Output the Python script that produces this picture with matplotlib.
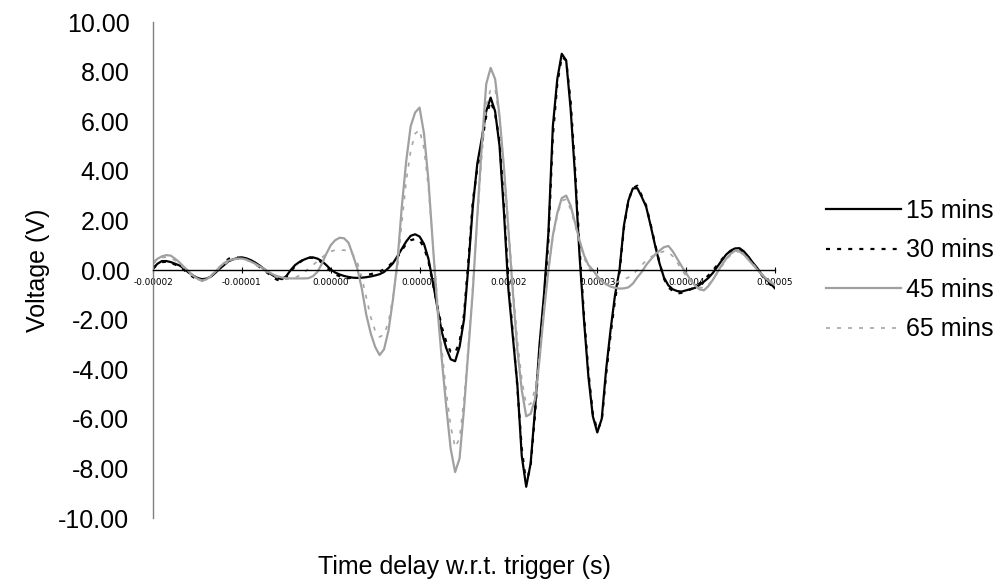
import numpy as np
import matplotlib
matplotlib.use("Agg")
import matplotlib.pyplot as plt
from matplotlib.ticker import FixedLocator, FuncFormatter

# Sample times (microseconds, 0.5 us step from -20 to 50)
t_us = np.arange(-20.0, 50.0 + 0.25, 0.5)

v_15min = [
    0.07, 0.25, 0.36, 0.36, 0.32, 0.25, 0.18, 0.05, -0.10, -0.22,
    -0.32, -0.37, -0.35, -0.27, -0.12, 0.05, 0.20, 0.35, 0.43, 0.48,
    0.51, 0.47, 0.40, 0.30, 0.18, 0.04, -0.10, -0.22, -0.32, -0.37,
    -0.25, 0.00, 0.20, 0.33, 0.42, 0.49, 0.51, 0.46, 0.36, 0.20,
    0.02, -0.10, -0.18, -0.24, -0.28, -0.31, -0.32, -0.31, -0.29, -0.26,
    -0.22, -0.17, -0.08, 0.08, 0.27, 0.55, 0.85, 1.15, 1.38, 1.44,
    1.35, 1.05, 0.45, -0.50, -1.50, -2.50, -3.15, -3.60, -3.68, -3.10,
    -2.00, 0.20, 2.60, 4.30, 5.30, 6.40, 6.95, 6.40, 5.00, 2.30,
    -0.80, -2.70, -4.60, -7.50, -8.74, -7.80, -5.60, -3.00, -1.00, 1.50,
    5.80, 7.70, 8.72, 8.45, 6.50, 3.80, 0.60, -2.00, -4.30, -5.90,
    -6.55, -6.00, -4.00, -2.40, -1.00, 0.00, 1.80, 2.80, 3.29, 3.30,
    2.95, 2.55, 1.80, 1.00, 0.27, -0.30, -0.62, -0.78, -0.85, -0.87,
    -0.82, -0.77, -0.72, -0.60, -0.47, -0.32, -0.12, 0.13, 0.38, 0.62,
    0.78, 0.87, 0.88, 0.75, 0.54, 0.30, 0.08, -0.18, -0.38, -0.55,
    -0.74,
]

v_30min = [
    0.05, 0.22, 0.32, 0.33, 0.28, 0.22, 0.12, 0.00, -0.15, -0.28,
    -0.38, -0.42, -0.38, -0.26, -0.08, 0.10, 0.25, 0.45, 0.52, 0.50,
    0.49, 0.45, 0.37, 0.25, 0.12, -0.02, -0.15, -0.30, -0.40, -0.45,
    -0.30, -0.05, 0.15, 0.30, 0.45, 0.52, 0.48, 0.42, 0.30, 0.12,
    -0.05, -0.18, -0.25, -0.30, -0.33, -0.30, -0.28, -0.25, -0.20, -0.17,
    -0.12, -0.06, 0.02, 0.15, 0.32, 0.50, 0.80, 1.05, 1.20, 1.25,
    1.20, 0.90, 0.35, -0.55, -1.45, -2.30, -2.90, -3.30, -3.35, -2.90,
    -1.80, 0.40, 2.80, 4.10, 5.10, 6.20, 6.80, 6.30, 5.20, 2.60,
    -0.50, -2.60, -4.70, -7.20, -8.60, -7.90, -5.80, -3.20, -1.20, 1.20,
    5.40, 7.50, 8.60, 8.45, 6.80, 4.10, 0.90, -1.80, -4.10, -5.80,
    -6.45, -6.10, -4.20, -2.60, -1.20, -0.10, 1.70, 2.80, 3.30, 3.40,
    3.00, 2.60, 1.85, 1.05, 0.30, -0.35, -0.70, -0.85, -0.95, -0.92,
    -0.85, -0.78, -0.70, -0.55, -0.40, -0.22, -0.02, 0.20, 0.42, 0.62,
    0.75, 0.82, 0.84, 0.72, 0.52, 0.28, 0.05, -0.20, -0.42, -0.60,
    -0.80,
]

v_45min = [
    0.30, 0.45, 0.55, 0.60, 0.58, 0.45, 0.30, 0.12, -0.05, -0.22,
    -0.35, -0.42, -0.38, -0.25, -0.08, 0.12, 0.28, 0.38, 0.43, 0.46,
    0.46, 0.42, 0.34, 0.25, 0.15, 0.05, -0.08, -0.18, -0.25, -0.30,
    -0.33, -0.34, -0.34, -0.34, -0.34, -0.33, -0.25, -0.08, 0.25, 0.65,
    1.00, 1.20, 1.30, 1.28, 1.10, 0.60, 0.05, -0.75, -1.80, -2.55,
    -3.10, -3.43, -3.20, -2.45, -1.20, 0.30, 2.55, 4.40, 5.80, 6.35,
    6.55, 5.50, 3.60, 1.00, -1.50, -3.60, -5.50, -7.20, -8.15, -7.60,
    -5.60, -3.20, -0.80, 2.20, 5.00, 7.50, 8.15, 7.70, 6.20, 4.10,
    1.60, -0.90, -3.20, -4.84, -5.90, -5.80, -5.20, -3.60, -1.70, 0.00,
    1.40, 2.30, 2.90, 3.00, 2.60, 1.90, 1.20, 0.60, 0.20, 0.00,
    -0.25, -0.45, -0.58, -0.67, -0.72, -0.75, -0.74, -0.70, -0.55, -0.30,
    -0.08, 0.20, 0.42, 0.62, 0.78, 0.92, 0.97, 0.75, 0.45, 0.15,
    -0.13, -0.40, -0.62, -0.78, -0.82, -0.65, -0.40, -0.10, 0.20, 0.45,
    0.65, 0.78, 0.75, 0.62, 0.42, 0.22, 0.02, -0.18, -0.35, -0.50,
    -0.60,
]

v_65min = [
    0.25, 0.40, 0.50, 0.52, 0.48, 0.38, 0.25, 0.08, -0.10, -0.25,
    -0.38, -0.44, -0.40, -0.28, -0.10, 0.08, 0.22, 0.33, 0.40, 0.45,
    0.44, 0.40, 0.32, 0.22, 0.10, -0.02, -0.12, -0.22, -0.30, -0.35,
    -0.37, -0.35, -0.30, -0.22, -0.10, 0.05, 0.20, 0.35, 0.50, 0.65,
    0.75, 0.80, 0.80, 0.80, 0.78, 0.62, 0.30, -0.30, -1.10, -1.90,
    -2.45, -2.70, -2.60, -2.10, -1.10, 0.10, 1.90, 3.60, 4.80, 5.50,
    5.65, 4.90, 3.30, 1.10, -1.20, -3.20, -4.90, -6.30, -7.15, -6.80,
    -5.20, -3.00, -0.60, 2.00, 4.60, 6.60, 7.30, 7.30, 6.10, 4.20,
    1.80, -0.60, -2.80, -4.40, -5.45, -5.40, -4.80, -3.40, -1.60, 0.00,
    1.30, 2.20, 2.80, 2.85, 2.45, 1.80, 1.10, 0.50, 0.10, -0.15,
    -0.35, -0.48, -0.55, -0.55, -0.52, -0.45, -0.38, -0.30, -0.18, 0.00,
    0.20, 0.38, 0.52, 0.62, 0.70, 0.75, 0.72, 0.55, 0.30, 0.02,
    -0.25, -0.45, -0.60, -0.70, -0.72, -0.60, -0.38, -0.12, 0.15, 0.40,
    0.60, 0.72, 0.75, 0.65, 0.45, 0.25, 0.05, -0.15, -0.32, -0.45,
    -0.55,
]

series_labels = ["15 mins", "30 mins", "45 mins", "65 mins"]
x_ticks = [-0.00002, -0.00001, 0.0, 0.00001, 0.00002, 0.00003, 0.00004, 0.00005]
y_ticks = [-10, -8, -6, -4, -2, 0, 2, 4, 6, 8, 10]

plt.rcParams["font.family"] = ["Liberation Sans", "DejaVu Sans"]

W, H = 997, 581
fig = plt.figure(figsize=(W / 100, H / 100), dpi=100)
ax = fig.add_axes([153 / W, 1 - 518 / H, (775 - 153) / W, (518 - 22) / H])

t_s = t_us * 1e-6
styles = [
    dict(color="black", lw=1.6, ls="-"),
    dict(color="black", lw=1.6, ls=(0, (1.8, 3.2))),
    dict(color="#a0a0a0", lw=1.6, ls="-"),
    dict(color="#a6a6a6", lw=1.2, ls=(0, (2.4, 4.2))),
]
for vals, lab, st in zip([v_15min, v_30min, v_45min, v_65min], series_labels, styles):
    ax.plot(t_s, vals, label=lab, solid_joinstyle="round", **st)

ax.set_xlim(-0.00002, 0.00005)
ax.set_ylim(-10, 10)

# Axis styling: vertical axis on the left, horizontal axis through zero
for side in ("top", "right"):
    ax.spines[side].set_visible(False)
ax.spines["left"].set_color("#808080")
ax.spines["left"].set_linewidth(1.0)
ax.spines["bottom"].set_position(("data", 0))
ax.spines["bottom"].set_color("black")
ax.spines["bottom"].set_linewidth(1.0)

ax.yaxis.set_major_locator(FixedLocator(y_ticks))
ax.yaxis.set_major_formatter(FuncFormatter(lambda v, p: f"{v:.2f}"))
ax.tick_params(axis="y", length=0, pad=17, labelsize=18)

ax.xaxis.set_major_locator(FixedLocator(x_ticks))
ax.xaxis.set_major_formatter(FuncFormatter(lambda v, p: f"{v:.5f}"))
ax.tick_params(axis="x", direction="inout", length=4, width=0.8,
               pad=4, labelsize=6.4)
for lbl in ax.get_xticklabels():
    lbl.set_fontfamily("DejaVu Sans")

ax.set_ylabel("Voltage (V)", fontsize=18)
ax.yaxis.label.set_va("center")
ax.yaxis.label.set_ha("center")
ax.yaxis.set_label_coords((38 - 153) / 622, 0.5)

ax.set_xlabel("Time delay w.r.t. trigger (s)", fontsize=18)
ax.xaxis.label.set_va("center")
ax.xaxis.label.set_ha("center")
ax.xaxis.set_label_coords(0.5, -(567 - 518) / 496)

leg = fig.legend(loc="center left", bbox_to_anchor=(826 / W, 1 - 270 / H),
                 frameon=False, fontsize=18, handlelength=3.0,
                 handletextpad=0.2, labelspacing=0.62, borderpad=0,
                 borderaxespad=0)

fig.savefig("out.png", dpi=100)
